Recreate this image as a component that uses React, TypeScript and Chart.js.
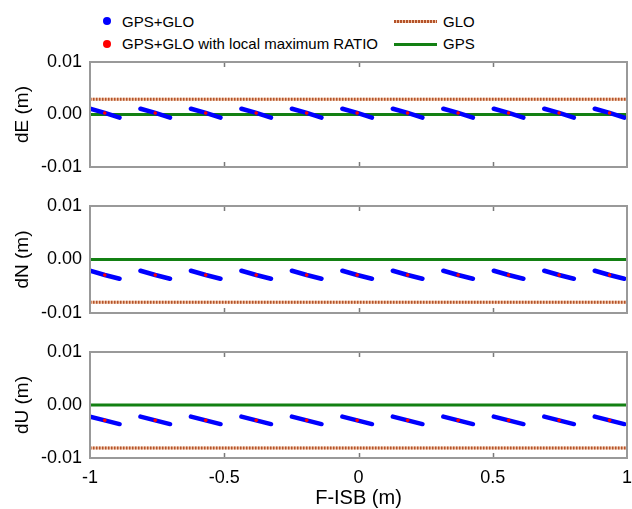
import React, { useEffect, useRef } from "react";
import { Chart, registerables } from "chart.js";
Chart.register(...registerables);

const FONT = "'Liberation Sans', Arial, Helvetica, sans-serif";

// Axis ticks
const xTickValues = [-1, -0.5, 0, 0.5, 1];
const xTickLabels = ["-1", "-0.5", "0", "0.5", "1"];
const xInnerTickValues = [-0.5, 0, 0.5];
const yTickValues = [-0.01, 0, 0.01];
const yTickLabels = ["-0.01", "0.00", "0.01"];

// F-ISB positions of each GPS+GLO segment (start, local-max RATIO point, end)
const segStartX = [-1, -0.812, -0.624, -0.436, -0.248, -0.06, 0.128, 0.316, 0.504, 0.692, 0.88];
const segRatioX = [-0.945, -0.757, -0.569, -0.381, -0.193, -0.005, 0.183, 0.371, 0.559, 0.747, 0.935];
const segEndX = [-0.89, -0.702, -0.514, -0.326, -0.138, 0.05, 0.238, 0.426, 0.614, 0.802, 0.99];

// dE panel
const dEStart = [0.0011, 0.0011, 0.0011, 0.0011, 0.0011, 0.0011, 0.0011, 0.0011, 0.0011, 0.0011, 0.0011];
const dERatio = [0.0003, 0.0003, 0.0003, 0.0003, 0.0003, 0.0003, 0.0003, 0.0003, 0.0003, 0.0003, 0.0003];
const dEEnd = [-0.0006, -0.0006, -0.0006, -0.0006, -0.0006, -0.0006, -0.0006, -0.0006, -0.0006, -0.0006, -0.0006];
const dEGLO = 0.0029;
const dEGPS = 0;

// dN panel
const dNStart = [-0.0021, -0.0021, -0.0021, -0.0021, -0.0021, -0.0021, -0.0021, -0.0021, -0.0021, -0.0021, -0.0021];
const dNRatio = [-0.0029, -0.0029, -0.0029, -0.0029, -0.0029, -0.0029, -0.0029, -0.0029, -0.0029, -0.0029, -0.0029];
const dNEnd = [-0.0036, -0.0036, -0.0036, -0.0036, -0.0036, -0.0036, -0.0036, -0.0036, -0.0036, -0.0036, -0.0036];
const dNGLO = -0.008;
const dNGPS = 0;

// dU panel
const dUStart = [-0.0022, -0.0022, -0.0022, -0.0022, -0.0022, -0.0022, -0.0022, -0.0022, -0.0022, -0.0022, -0.0022];
const dURatio = [-0.0029, -0.0029, -0.0029, -0.0029, -0.0029, -0.0029, -0.0029, -0.0029, -0.0029, -0.0029, -0.0029];
const dUEnd = [-0.0036, -0.0036, -0.0036, -0.0036, -0.0036, -0.0036, -0.0036, -0.0036, -0.0036, -0.0036, -0.0036];
const dUGLO = -0.0081;
const dUGPS = 0;

const panels = [
  { title: "dE (m)", start: dEStart, ratio: dERatio, end: dEEnd, glo: dEGLO, gps: dEGPS, top: 50, height: 130, padTop: 12, padBottom: 13, last: false },
  { title: "dN (m)", start: dNStart, ratio: dNRatio, end: dNEnd, glo: dNGLO, gps: dNGPS, top: 190, height: 140, padTop: 16, padBottom: 17, last: false },
  { title: "dU (m)", start: dUStart, ratio: dURatio, end: dUEnd, glo: dUGLO, gps: dUGPS, top: 336, height: 173, padTop: 16, padBottom: 0, last: true },
];

const frameAndTicks = {
  id: "frameAndTicks",
  afterDatasetsDraw(chart: any) {
    const { ctx, chartArea } = chart;
    const xs = chart.scales.x;
    ctx.save();
    ctx.strokeStyle = "#7a7a7a";
    ctx.lineWidth = 1.5;
    for (const v of xInnerTickValues) {
      const px = Math.round(xs.getPixelForValue(v)) + 0.5;
      ctx.beginPath();
      ctx.moveTo(px, chartArea.top);
      ctx.lineTo(px, chartArea.top + 5);
      ctx.moveTo(px, chartArea.bottom);
      ctx.lineTo(px, chartArea.bottom - 5);
      ctx.stroke();
    }
    ctx.strokeStyle = "#999999";
    ctx.lineWidth = 2;
    ctx.strokeRect(chartArea.left, chartArea.top, chartArea.right - chartArea.left, chartArea.bottom - chartArea.top);
    ctx.restore();
  },
};

function Panel({ p }: { p: any }) {
  const ref = useRef<HTMLCanvasElement | null>(null);
  useEffect(() => {
    if (!ref.current) return;
    const blue: any[] = [];
    const red: any[] = [];
    for (let i = 0; i < segStartX.length; i++) {
      blue.push({ x: segStartX[i], y: p.start[i] });
      blue.push({ x: segRatioX[i], y: p.ratio[i] });
      blue.push({ x: segEndX[i], y: p.end[i] });
      blue.push({ x: segEndX[i], y: null });
      red.push({ x: segRatioX[i], y: p.ratio[i] });
    }
    const chart = new Chart(ref.current, {
      type: "line",
      data: {
        datasets: [
          { label: "GPS+GLO with local maximum RATIO", data: red, showLine: false, pointRadius: 1.8, pointBackgroundColor: "#ff0000", pointBorderWidth: 0, order: 0, clip: 0 } as any,
          { label: "GPS+GLO", data: blue, borderColor: "#0000ff", borderWidth: 4.5, borderCapStyle: "round", pointRadius: 0, spanGaps: false, order: 1, clip: 0 } as any,
          { label: "GPS", data: [{ x: -1, y: p.gps }, { x: 1, y: p.gps }], borderColor: "#138013", borderWidth: 3, pointRadius: 0, order: 2, clip: 0 } as any,
          { label: "GLO", data: [{ x: -1, y: p.glo }, { x: 1, y: p.glo }], borderColor: "#b4532a", borderWidth: 3, borderDash: [1.5, 1.5], pointRadius: 0, order: 3, clip: 0 } as any,
          { label: "GLO base", data: [{ x: -1, y: p.glo }, { x: 1, y: p.glo }], borderColor: "#efc2a6", borderWidth: 3, pointRadius: 0, order: 4, clip: 0 } as any,
        ],
      },
      options: {
        animation: false,
        responsive: false,
        maintainAspectRatio: false,
        layout: { padding: { top: p.padTop, bottom: p.padBottom, left: 0, right: 5 } },
        plugins: { legend: { display: false }, tooltip: { enabled: false } },
        scales: {
          x: {
            type: "linear",
            min: -1,
            max: 1,
            display: p.last,
            grid: { display: false, drawTicks: false, tickLength: 0 },
            border: { display: false },
            afterBuildTicks: (s: any) => { s.ticks = xTickValues.map((v) => ({ value: v })); },
            afterFit: (s: any) => {
              s.height = p.last ? 51 : 0;
              s.paddingLeft = 0;
              s.paddingRight = 0;
              s.paddingTop = 0;
              s.paddingBottom = 0;
            },
            ticks: {
              autoSkip: false,
              maxRotation: 0,
              padding: 9,
              color: "#000",
              font: { family: FONT, size: 18 },
              callback: (v: any) => xTickLabels[xTickValues.indexOf(Number(v))],
            },
            title: { display: p.last, text: "F-ISB (m)", color: "#000", font: { family: FONT, size: 20, lineHeight: 1 }, padding: { top: 0, bottom: 1 } },
          },
          y: {
            type: "linear",
            min: -0.01,
            max: 0.01,
            grid: { display: false, drawTicks: false, tickLength: 0 },
            border: { display: false },
            afterBuildTicks: (s: any) => { s.ticks = yTickValues.map((v) => ({ value: v })); },
            afterFit: (s: any) => {
              s.width = 90;
              s.paddingLeft = 0;
              s.paddingRight = 0;
              s.paddingTop = 0;
              s.paddingBottom = 0;
            },
            ticks: {
              padding: 8,
              color: "#000",
              font: { family: FONT, size: 18 },
              callback: (v: any) => {
                const idx = yTickValues.findIndex((t) => Math.abs(t - Number(v)) < 1e-9);
                return yTickLabels[idx];
              },
            },
            title: { display: true, text: p.title, color: "#000", font: { family: FONT, size: 19, lineHeight: 1 }, padding: { top: 13, bottom: 0 } },
          },
        },
      } as any,
      plugins: [frameAndTicks],
    });
    return () => chart.destroy();
  }, []);
  return (
    <canvas
      ref={ref}
      width={632}
      height={p.height}
      style={{ position: "absolute", left: 0, top: p.top, width: 632, height: p.height }}
    />
  );
}

const legendText: React.CSSProperties = {
  position: "absolute",
  fontFamily: FONT,
  fontSize: 15,
  lineHeight: "18px",
  color: "#000",
  whiteSpace: "nowrap",
};

export default function App() {
  return (
    <div style={{ position: "absolute", left: 0, top: 0, width: 632, height: 509, background: "#fff", overflow: "hidden" }}>
      <div style={{ position: "absolute", left: 103, top: 17, width: 8, height: 8, borderRadius: "50%", background: "#0000ff" }} />
      <span style={{ ...legendText, left: 122, top: 13 }}>GPS+GLO</span>
      <div style={{ position: "absolute", left: 103, top: 40, width: 8, height: 8, borderRadius: "50%", background: "#ff0000" }} />
      <span style={{ ...legendText, left: 122, top: 35 }}>GPS+GLO with local maximum RATIO</span>
      <div style={{ position: "absolute", left: 394, top: 20, width: 43, height: 3, background: "repeating-linear-gradient(90deg, #b4532a 0px, #b4532a 1.5px, #efc2a6 1.5px, #efc2a6 3px)" }} />
      <span style={{ ...legendText, left: 443, top: 13 }}>GLO</span>
      <div style={{ position: "absolute", left: 394, top: 43, width: 43, height: 3, background: "#138013" }} />
      <span style={{ ...legendText, left: 443, top: 35 }}>GPS</span>
      {panels.map((p, i) => (
        <Panel key={i} p={p} />
      ))}
    </div>
  );
}
